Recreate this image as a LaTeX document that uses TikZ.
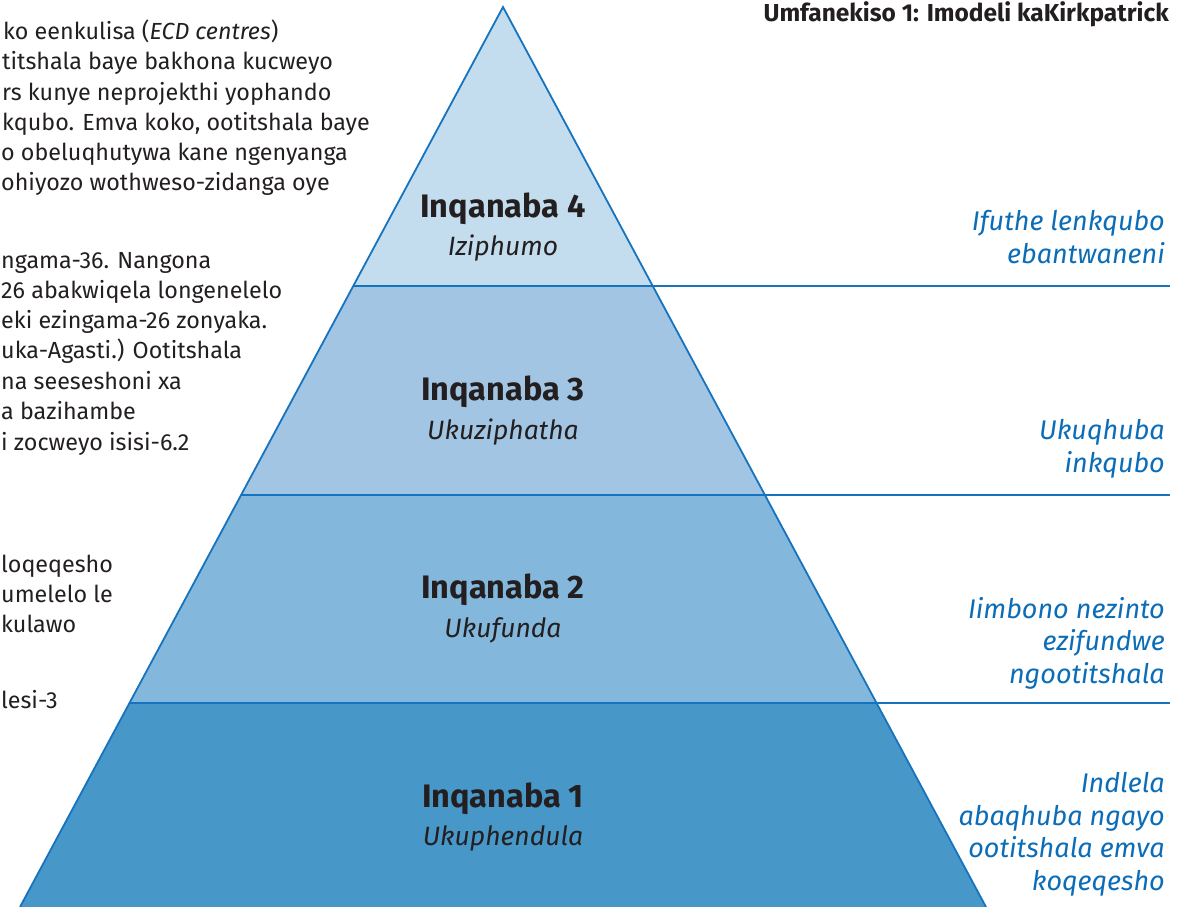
\documentclass[tikz,border=0pt]{standalone}
\usepackage{fontspec}
\setmainfont{Fira Sans}
\definecolor{bandA}{HTML}{C3DDEF}
\definecolor{bandB}{HTML}{A1C5E3}
\definecolor{bandC}{HTML}{83B7DC}
\definecolor{bandD}{HTML}{4897C9}
\definecolor{edgeblue}{HTML}{1673BD}
\definecolor{labelblue}{HTML}{0B6DB7}
\definecolor{bodytext}{HTML}{231F20}
\tikzset{
  body/.style={anchor=base west, inner sep=0pt, text=bodytext, font=\fontsize{23.3}{30}\selectfont},
  lvl/.style={anchor=base, inner sep=0pt, text=bodytext, font=\fontsize{32.5}{38}\selectfont\bfseries},
  lvlsub/.style={anchor=base, inner sep=0pt, text=bodytext, font=\fontsize{26.5}{30}\selectfont\itshape},
  sidelabel/.style={anchor=base east, inner sep=0pt, align=right, text=labelblue, font=\fontsize{27}{32.5}\selectfont\itshape},
  edge/.style={draw=edgeblue, line width=1.8pt},
  titlestyle/.style={anchor=base east, inner sep=0pt, text=bodytext, font=\fontsize{24.5}{28}\selectfont\bfseries}
}
\begin{document}
\begin{tikzpicture}[x=1pt,y=-1pt]
\useasboundingbox (0,0) rectangle (1191,907);
% pyramid geometry
\coordinate (apex) at (503,7);
\coordinate (L3) at (353.3,286);
\coordinate (R3) at (652.7,286);
\coordinate (L2) at (241.1,495);
\coordinate (R2) at (764.9,495);
\coordinate (L1) at (129.5,703);
\coordinate (R1) at (876.5,703);
\coordinate (L0) at (20,907);
\coordinate (R0) at (986,907);
\coordinate (E3) at (1170,286);
\coordinate (E2) at (1170,495);
\coordinate (E1) at (1170,703);
% bands
\fill[bandA] (apex) -- (R3) -- (L3) -- cycle;
\fill[bandB] (L3) -- (R3) -- (R2) -- (L2) -- cycle;
\fill[bandC] (L2) -- (R2) -- (R1) -- (L1) -- cycle;
\fill[bandD] (L1) -- (R1) -- (R0) -- (L0) -- cycle;
% lines
\draw[edge] (L3) -- (E3);
\draw[edge] (L2) -- (E2);
\draw[edge] (L1) -- (E1);
\draw[edge, line join=miter] (L0) -- (apex) -- (R0);
% title
\node[titlestyle] (title) at (1169,22) {Umfanekiso 1: Imodeli kaKirkpatrick};
% level labels
\node[lvl] (n4) at (503,217) {Inqanaba 4};
\node[lvlsub] (s4) at (503,255) {Iziphumo};
\node[lvl] (n3) at (503,400) {Inqanaba 3};
\node[lvlsub] (s3) at (503,439) {Ukuziphatha};
\node[lvl] (n2) at (503,598) {Inqanaba 2};
\node[lvlsub] (s2) at (503,637) {Ukufunda};
\node[lvl] (n1) at (503,807) {Inqanaba 1};
\node[lvlsub] (s1) at (503,845) {Ukuphendula};
% side labels (base = last line)
\node[sidelabel] (r4) at (1165,263) {Ifuthe lenkqubo\\ebantwaneni};
\node[sidelabel] (r3) at (1165,472) {Ukuqhuba\\inkqubo};
\node[sidelabel] (r2) at (1165,683) {Iimbono nezinto\\ezifundwe\\ngootitshala};
\node[sidelabel] (r1) at (1165,890) {Indlela\\abaqhuba ngayo\\ootitshala emva\\koqeqesho};
% left running text (cut page)
\node[body] (a1) at (3,40) {ko eenkulisa (\textit{ECD centres})};
\node[body] (a2) at (2,70) {titshala baye bakhona kucweyo};
\node[body] (a3) at (2,100) {rs kunye neprojekthi yophando};
\node[body] (a4) at (2,130) {kqubo. Emva koko, ootitshala baye};
\node[body] (a5) at (1,160) {o obeluqhutywa kane ngenyanga};
\node[body] (a6) at (1,190) {ohiyozo wothweso-zidanga oye};
\node[body] (b1) at (1,268) {ngama-36. Nangona};
\node[body] (b2) at (1,298) {26 abakwiqela longenelelo};
\node[body] (b3) at (1,328) {eki ezingama-26 zonyaka.};
\node[body] (b4) at (1,358) {uka-Agasti.) Ootitshala};
\node[body] (b5) at (1,389) {na seeseshoni xa};
\node[body] (b6) at (1,419) {a bazihambe};
\node[body] (b7) at (1,450) {i zocweyo isisi-6.2};
\node[body] (c1) at (1,572) {loqeqesho};
\node[body] (c2) at (1,602) {umelelo le};
\node[body] (c3) at (1,632) {kulawo};
\node[body] (c4) at (1,708) {lesi-3};
\end{tikzpicture}
\end{document}
